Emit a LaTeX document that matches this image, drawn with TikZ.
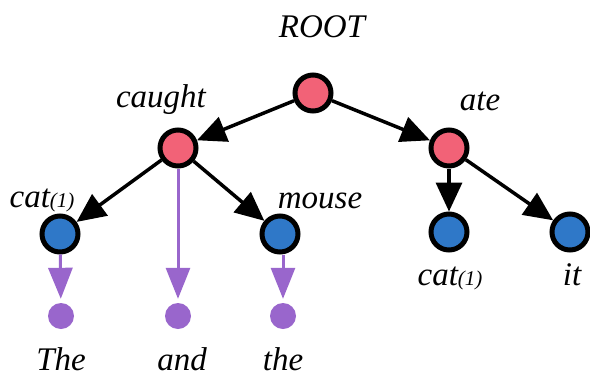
\documentclass[tikz,border=0pt]{standalone}
\usepackage{fontspec}
\newfontfamily\labelfont{Liberation Serif}
\usetikzlibrary{arrows.meta}
\definecolor{pinkfill}{HTML}{F26277}
\definecolor{bluefill}{HTML}{2F78C8}
\definecolor{purp}{HTML}{9966CC}
\tikzset{
  headnode/.style={circle, draw=black, line width=5pt, fill=pinkfill, minimum size=36pt, inner sep=0pt},
  leafnode/.style={circle, draw=black, line width=5pt, fill=bluefill, minimum size=36pt, inner sep=0pt},
  dotnode/.style={circle, fill=purp, minimum size=26pt, inner sep=0pt},
  lbl/.style={anchor=base, inner sep=0pt, font=\labelfont\fontsize{33}{38}\selectfont\itshape},
  deparrow/.style={line width=3.5pt, -{Triangle[length=29pt, width=26pt]}},
  tokarrow/.style={purp, line width=3pt, -{Triangle[length=31pt, width=24pt]}, shorten >=4pt}
}
\newcommand{\smallone}{{\fontsize{21}{21}\selectfont(1)}}
\begin{document}
\begin{tikzpicture}[x=1pt, y=-1pt]
\useasboundingbox (0,0) rectangle (590,376);
\node[headnode] (root) at (313,93) {};
\node[headnode] (caught) at (178,148) {};
\node[headnode] (ate) at (449,148) {};
\node[leafnode] (cat1) at (60,234) {};
\node[leafnode] (mouse) at (280,234) {};
\node[leafnode] (cat2) at (449,232) {};
\node[leafnode] (it) at (570,232) {};
\node[dotnode] (d1) at (61,316) {};
\node[dotnode] (d2) at (178,316) {};
\node[dotnode] (d3) at (283,316) {};

\node[lbl] (lroot) at (322,37) {ROOT};
\node[lbl] (lcaught) at (161,107) {caught};
\node[lbl] (late) at (480,110) {ate};
\node[lbl] (lcat1) at (42,207) {cat\smallone};
\node[lbl] (lmouse) at (320,208) {mouse};
\node[lbl] (lcat2) at (450,285) {cat\smallone};
\node[lbl] (lit) at (572,285) {it};
\node[lbl] (lthe1) at (61,370) {The};
\node[lbl] (land) at (182,370) {and};
\node[lbl] (lthe2) at (283,370) {the};

\draw[deparrow] (root) -- (caught);
\draw[deparrow] (root) -- (ate);
\draw[deparrow] (caught) -- (cat1);
\draw[deparrow] (caught) -- (mouse);
\draw[deparrow] (ate) -- (cat2);
\draw[deparrow] (ate) -- (it);
\draw[tokarrow] (cat1) -- (d1);
\draw[tokarrow] (caught) -- (d2);
\draw[tokarrow] (mouse.south -| d3) -- (d3);
\end{tikzpicture}
\end{document}
